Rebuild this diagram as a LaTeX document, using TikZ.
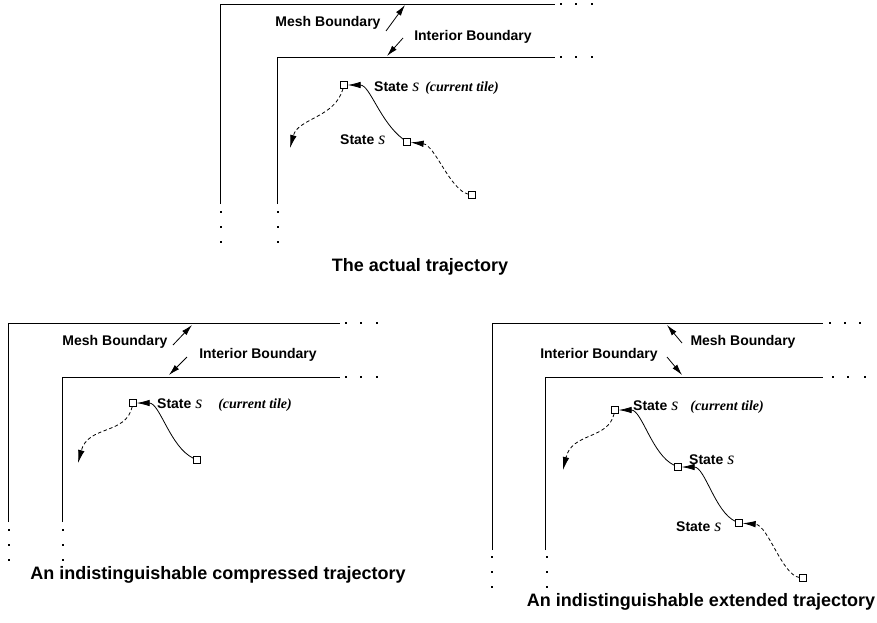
\documentclass[tikz,border=0pt]{standalone}
\usepackage{fontspec}
\setmainfont{Liberation Serif}
\setsansfont{Liberation Sans}
\usetikzlibrary{arrows.meta}
\newcommand\mylab{\fontsize{14}{16}\selectfont\sffamily\bfseries}
\newcommand\myttl{\fontsize{18}{20}\selectfont\sffamily\bfseries}
\newcommand\myS{{\fontsize{18}{18}\selectfont\rmfamily\mdseries\itshape s}}
\newcommand\mycur{{\fontsize{14}{16}\selectfont\rmfamily\bfseries\itshape (current tile)}}
\begin{document}
\begin{tikzpicture}[x=1pt,y=-1pt,
  bnd/.style={line width=1pt},
  sq/.style={draw,fill=white,minimum size=6.5pt,inner sep=0pt,line width=0.8pt},
  txt/.style={inner sep=0pt,font=\mylab},
  ttl/.style={inner sep=0pt,font=\myttl},
  barr/.style={line width=0.8pt,-{Latex[length=11pt,width=6pt]}},
  tarr/.style={line width=0.8pt,-{Latex[length=13pt,width=6.5pt]}},
  darr/.style={line width=0.8pt,dash pattern=on 3.5pt off 2.5pt,-{Latex[length=13pt,width=6.5pt]}},
  ]
\useasboundingbox (0,0) rectangle (877,622);
% ---------- top panel ----------
\draw[bnd] (220,204) -- (220,4) -- (555,4);
\draw[bnd] (277,204) -- (277,57) -- (555,57);
\foreach \x in {561,576,592} {\fill (\x-1.2,4-1.2) rectangle ++(2.4,2.4); \fill (\x-1.2,57-1.2) rectangle ++(2.4,2.4);}
\foreach \y in {212,227,242} {\fill (221-1.2,\y-1.2) rectangle ++(2.4,2.4); \fill (278-1.2,\y-1.2) rectangle ++(2.4,2.4);}
\node[txt] (mbA) at (328,23) {Mesh Boundary};
\node[txt] (ibA) at (473,37) {Interior Boundary};
\coordinate (mbAs) at (386,31); \coordinate (mbAe) at (405,5);
\coordinate (ibAs) at (403,38); \coordinate (ibAe) at (387,56);
\draw[barr] (mbAs) -- (mbAe);
\draw[barr] (ibAs) -- (ibAe);
\node[sq] (a1) at (344,85) {};
\node[sq] (a2) at (407,142) {};
\node[sq] (a3) at (472,195) {};
\coordinate (aE) at (290,148);
\node[txt,anchor=west] (la1) at (374,88) {State \myS\hspace{6pt}\mycur};
\node[txt,anchor=west] (la2) at (340,140) {State \myS};
\draw[tarr] (a2) .. controls (380,122) and (370,85) .. (a1);
\draw[darr] (a3) .. controls (450,190) and (435,145) .. (a2);
\draw[darr] (a1) .. controls (335,118) and (298,118) .. (aE);
\node[ttl] (tA) at (420,267) {The actual trajectory};
% ---------- bottom left ----------
\draw[bnd] (8,522) -- (8,323) -- (340,323);
\draw[bnd] (62,522) -- (62,377) -- (340,377);
\foreach \x in {346,361,377} {\fill (\x-1.2,323-1.2) rectangle ++(2.4,2.4); \fill (\x-1.2,377-1.2) rectangle ++(2.4,2.4);}
\foreach \y in {530,545,560} {\fill (9-1.2,\y-1.2) rectangle ++(2.4,2.4); \fill (63-1.2,\y-1.2) rectangle ++(2.4,2.4);}
\node[txt] (mbB) at (115,342) {Mesh Boundary};
\node[txt] (ibB) at (258,355) {Interior Boundary};
\coordinate (mbBs) at (173,345); \coordinate (mbBe) at (192,325);
\coordinate (ibBs) at (187,357); \coordinate (ibBe) at (169,375);
\draw[barr] (mbBs) -- (mbBe);
\draw[barr] (ibBs) -- (ibBe);
\node[sq] (b1) at (133,403) {};
\node[sq] (b2) at (197,460) {};
\coordinate (bE) at (78,463);
\node[txt,anchor=west] (lb1) at (157,405) {State \myS\hspace{16pt}\mycur};
\draw[tarr] (b2) .. controls (170,447) and (160,403) .. (b1);
\draw[darr] (b1) .. controls (126,435) and (88,425) .. (bE);
\node[ttl] (tB) at (218,575) {An indistinguishable compressed trajectory};
% ---------- bottom right ----------
\draw[bnd] (492,550) -- (492,323) -- (823,323);
\draw[bnd] (545,550) -- (545,377) -- (823,377);
\foreach \x in {830,845,860} {\fill (\x-1.2,323-1.2) rectangle ++(2.4,2.4);}
\foreach \x in {833,848,865} {\fill (\x-1.2,377-1.2) rectangle ++(2.4,2.4);}
\foreach \y in {557,572,587} {\fill (492-1.2,\y-1.2) rectangle ++(2.4,2.4); \fill (547-1.2,\y-1.2) rectangle ++(2.4,2.4);}
\node[txt] (mbC) at (743,342) {Mesh Boundary};
\node[txt] (ibC) at (599,355) {Interior Boundary};
\coordinate (mbCs) at (682,343); \coordinate (mbCe) at (667,325);
\coordinate (ibCs) at (667,357); \coordinate (ibCe) at (682,375);
\draw[barr] (mbCs) -- (mbCe);
\draw[barr] (ibCs) -- (ibCe);
\node[sq] (c1) at (615,410) {};
\node[sq] (c2) at (678,467) {};
\node[sq] (c3) at (739,523) {};
\node[sq] (c4) at (803,578) {};
\coordinate (cE) at (563,470);
\node[txt,anchor=west] (lc1) at (633,407) {State \myS\hspace{12pt}\mycur};
\node[txt,anchor=west] (lc2) at (689,460) {State \myS};
\node[txt,anchor=west] (lc3) at (676,527) {State \myS};
\draw[tarr] (c2) .. controls (652,455) and (642,410) .. (c1);
\draw[tarr] (c3) .. controls (715,512) and (705,467) .. (c2);
\draw[darr] (c4) .. controls (782,575) and (768,525) .. (c3);
\draw[darr] (c1) .. controls (608,440) and (572,432) .. (cE);
\node[ttl] (tC) at (701,602) {An indistinguishable extended trajectory};
\end{tikzpicture}
\end{document}
